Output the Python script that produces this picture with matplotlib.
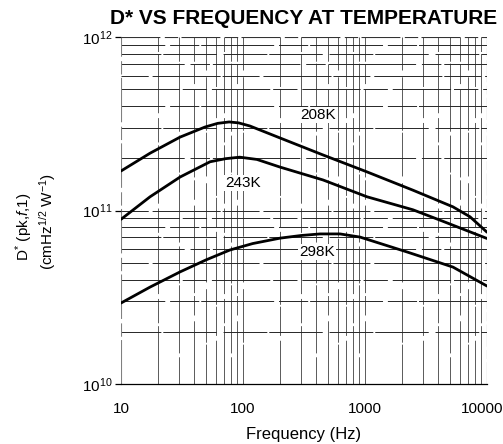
import matplotlib
matplotlib.use('Agg')
import matplotlib.pyplot as plt
from matplotlib.ticker import FixedLocator, NullFormatter
from matplotlib.transforms import ScaledTranslation

plt.rcParams['font.family'] = ['Liberation Sans', 'DejaVu Sans']
plt.rcParams['mathtext.fontset'] = 'custom'
plt.rcParams['mathtext.rm'] = 'Liberation Sans'
plt.rcParams['mathtext.it'] = 'Liberation Sans:italic'

# (Hz, D*)
freq_208 = [10, 17.3, 30.5, 48.9, 62, 77, 92, 114, 201, 453, 1038, 2470, 5260, 7260, 10000]
dstar_208 = [1.69e11, 2.14e11, 2.65e11, 3.03e11, 3.18e11, 3.24e11, 3.2e11, 3.07e11,
             2.62e11, 2.09e11, 1.67e11, 1.31e11, 1.05e11, 9.2e10, 7.5e10]

freq_243 = [10, 17.3, 30.5, 53.7, 72, 94, 130, 201, 453, 1038, 2470, 4120, 10000]
dstar_243 = [8.9e10, 1.20e11, 1.56e11, 1.91e11, 1.99e11, 2.03e11, 1.97e11, 1.78e11,
             1.50e11, 1.20e11, 1.01e11, 8.8e10, 6.9e10]

freq_298 = [10, 17.3, 30.5, 50, 78, 120, 201, 300, 428, 624, 910, 2210, 5260, 10000]
dstar_298 = [2.93e10, 3.62e10, 4.43e10, 5.2e10, 5.92e10, 6.45e10, 6.93e10, 7.18e10,
             7.33e10, 7.33e10, 7.03e10, 5.77e10, 4.72e10, 3.67e10]

curve_labels = ['208K', '243K', '298K']
label_pos = [(412, 3.55e11), (100, 1.44e11), (404, 5.77e10)]

x_ticks = [10, 100, 1000, 10000]
x_ticklabels = ['10', '100', '1000', '10000']
y_ticks = [1e10, 1e11, 1e12]
y_ticklabels = ['$10^{10}$', '$10^{11}$', '$10^{12}$']

fig = plt.figure(figsize=(5.03, 4.44), dpi=100)
ax = fig.add_axes([0.2406, 0.1351, 0.7276, 0.7815])
ax.set_xscale('log')
ax.set_yscale('log')
ax.set_xlim(10, 10000)
ax.set_ylim(1e10, 1e12)

# scanned-looking grid: mostly solid lines with a few breaks
dash_cycle = [(0, (60, 3, 25, 5)), (10, (38, 4, 70, 2)), (25, (90, 6, 20, 3)),
              (4, (45, 2, 55, 7)), (30, (75, 5, 30, 2))]
k = 0
for dec in [10, 100, 1000]:
    for m in range(1, 10):
        v = dec * m
        if v <= 10:
            continue
        ax.axvline(v, color='0.35', lw=0.7, linestyle=dash_cycle[k % 5], zorder=1)
        k += 1
for dec in [1e10, 1e11]:
    for m in range(1, 10):
        v = dec * m
        if v <= 1e10:
            continue
        ax.axhline(v, color='0.15', lw=0.7, linestyle=dash_cycle[(k + 2) % 5], zorder=1)
        k += 1
ax.axvline(10, color='0.5', lw=0.8, linestyle=(0, (40, 3, 12, 4)), zorder=1)
ax.axvline(10000, color='0.35', lw=0.8, linestyle=(0, (20, 3, 8, 3)), zorder=1)
ax.axhline(1e12, color='0.2', lw=0.8, linestyle=(0, (35, 4, 12, 3)), zorder=1)

for s in ['top', 'right', 'left']:
    ax.spines[s].set_visible(False)
ax.spines['bottom'].set_linewidth(0.9)

for f, d in [(freq_208, dstar_208), (freq_243, dstar_243), (freq_298, dstar_298)]:
    ax.plot(f, d, color='black', lw=2.0, zorder=3, solid_capstyle='round',
            solid_joinstyle='round')

for lab, (lx, ly) in zip(curve_labels, label_pos):
    ax.text(lx, ly, lab, fontsize=11, ha='center', va='center', zorder=4,
            bbox=dict(facecolor='white', edgecolor='none', pad=1.0))

ax.xaxis.set_major_locator(FixedLocator(x_ticks))
ax.set_xticklabels(x_ticklabels)
ax.xaxis.set_minor_formatter(NullFormatter())
ax.yaxis.set_major_locator(FixedLocator(y_ticks))
ax.set_yticklabels(y_ticklabels)
ax.yaxis.set_minor_formatter(NullFormatter())
ax.tick_params(axis='x', which='major', length=0, pad=13, labelsize=11)
ax.tick_params(axis='y', which='major', length=4, width=0.9, pad=2, labelsize=11)
ax.tick_params(which='minor', length=0)

# keep the last frequency label inside the picture
last = ax.get_xticklabels()[-1]
last.set_transform(last.get_transform() + ScaledTranslation(-0.05, 0, fig.dpi_scale_trans))

ax.set_xlabel('Frequency (Hz)', fontsize=12, labelpad=8)

fig.text(0.048, 0.49, 'D$^{*}$ (pk,$f$,1)', rotation=90, fontsize=11,
         ha='center', va='center')
fig.text(0.095, 0.50, '(cmHz$^{1/2}$ W$^{-1}$)', rotation=90, fontsize=11,
         ha='center', va='center')

fig.text(0.604, 0.958, 'D* VS FREQUENCY AT TEMPERATURE', fontsize=15,
         fontweight='bold', ha='center', va='center')

fig.savefig('out.png', dpi=100)
